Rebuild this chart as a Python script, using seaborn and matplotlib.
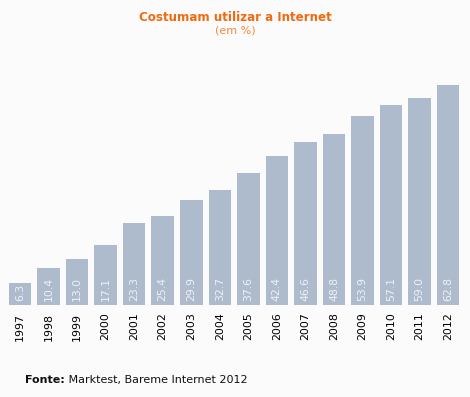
import pandas as pd
import matplotlib.pyplot as plt
import seaborn as sns

years = ['1997', '1998', '1999', '2000', '2001', '2002', '2003', '2004',
         '2005', '2006', '2007', '2008', '2009', '2010', '2011', '2012']
values = [6.3, 10.4, 13.0, 17.1, 23.3, 25.4, 29.9, 32.7,
          37.6, 42.4, 46.6, 48.8, 53.9, 57.1, 59.0, 62.8]

df = pd.DataFrame({'ano': years, 'pct': values})

sns.set_style('white')
plt.rcParams['font.family'] = ['DejaVu Sans']

bg = '#fbfbfb'
fig = plt.figure(figsize=(4.70, 3.97), dpi=100, facecolor=bg)
ax = fig.add_axes([0.012, 0.232, 0.972, 0.5735])
ax.set_facecolor(bg)

sns.barplot(data=df, x='ano', y='pct', color='#aebbcc', saturation=1,
            width=0.79, linewidth=0, ax=ax)

# valores dentro das barras, na vertical
for bar, v in zip(ax.patches, values):
    cx = bar.get_x() + bar.get_width() / 2
    ax.annotate(f'{v:.1f}', xy=(cx, 0), xytext=(0, 3), textcoords='offset points',
                rotation=90, ha='center', va='bottom', color='#eef1f5',
                fontsize=7.8)

ax.set_ylim(0, 65)
ax.set_xlim(-0.5, len(years) - 0.5)
ax.set_xlabel('')
ax.set_ylabel('')
ax.set_yticks([])
ax.tick_params(axis='x', length=0, pad=5.5, labelsize=7.9, labelrotation=90,
               labelcolor='black')
for s in ax.spines.values():
    s.set_visible(False)

fig.text(0.5, 0.957, 'Costumam utilizar a Internet', ha='center', va='center',
         fontsize=8.6, fontweight='bold', color='#f26a10')
fig.text(0.5, 0.922, '(em %)', ha='center', va='center',
         fontsize=8, color='#f5883e')

t1 = fig.text(0.053, 0.035, 'Fonte:', ha='left', va='baseline',
              fontsize=8, fontweight='bold', color='#111111')
ax.annotate(' Marktest, Bareme Internet 2012', xy=(1, 0), xycoords=t1,
            ha='left', va='bottom', fontsize=8, color='#111111',
            annotation_clip=False)

fig.savefig('out.png', dpi=100, facecolor=bg)
